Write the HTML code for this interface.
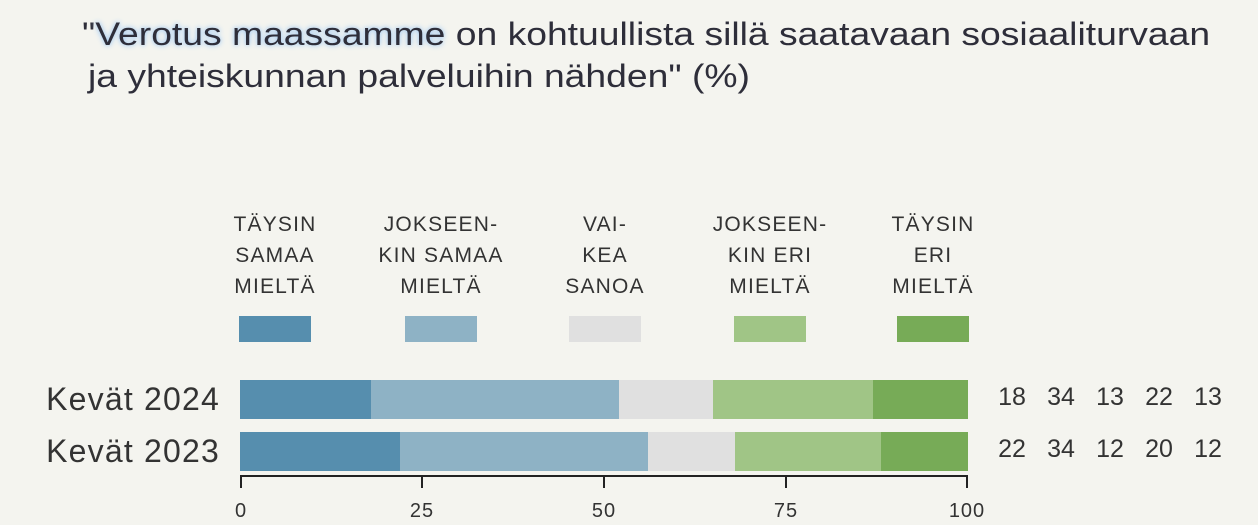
<!DOCTYPE html>
<html><head><meta charset="utf-8"><style>
body{margin:0;width:1258px;height:525px;background:#f4f4ef;font-family:"Liberation Sans",sans-serif;color:#333;position:relative;overflow:hidden}
.t{position:absolute;font-size:32px;white-space:nowrap;color:#2e2e3a;transform-origin:0 0;transform:scaleX(1.165)}
.hl{text-shadow:0 0 4px #a8ccf0,0 0 6px #bcd8f4}
.lg{position:absolute;width:200px;text-align:center;font-size:21px;letter-spacing:1.2px;line-height:31px;color:#333;top:209px}
.sw{position:absolute;top:316px;width:72px;height:26px}
.bar{position:absolute;height:39px;left:240px}
.bar div{position:absolute;top:0;height:100%}
.yl{position:absolute;font-size:32px;letter-spacing:1.2px;color:#333;right:1038px}
.num{position:absolute;font-size:25px;color:#333;width:40px;text-align:center}
.tick{position:absolute;top:476px;width:2px;height:12px;background:#222}
.tl{position:absolute;top:500px;font-size:20px;letter-spacing:1px;width:60px;text-align:center}
</style></head><body>
<div class="t" style="left:82px;top:16px">"<span class="hl">Verotus maassamme</span> on kohtuullista sillä saatavaan sosiaaliturvaan</div>
<div class="t" style="left:88px;top:58px">ja yhteiskunnan palveluihin nähden" (%)</div>

<div class="lg" style="left:175px">TÄYSIN<br>SAMAA<br>MIELTÄ</div>
<div class="lg" style="left:341px">JOKSEEN-<br>KIN SAMAA<br>MIELTÄ</div>
<div class="lg" style="left:505px">VAI-<br>KEA<br>SANOA</div>
<div class="lg" style="left:670px">JOKSEEN-<br>KIN ERI<br>MIELTÄ</div>
<div class="lg" style="left:833px">TÄYSIN<br>ERI<br>MIELTÄ</div>
<div class="sw" style="left:239px;background:#568eae"></div>
<div class="sw" style="left:405px;background:#8eb2c5"></div>
<div class="sw" style="left:569px;background:#e0e0e0"></div>
<div class="sw" style="left:734px;background:#a0c586"></div>
<div class="sw" style="left:897px;background:#77ab57"></div>

<div class="yl" style="top:381px">Kevät 2024</div>
<div class="yl" style="top:433px">Kevät 2023</div>

<div class="bar" style="top:380px;width:728px">
<div style="left:0;width:131px;background:#568eae"></div>
<div style="left:131px;width:248px;background:#8eb2c5"></div>
<div style="left:379px;width:94px;background:#e0e0e0"></div>
<div style="left:473px;width:160px;background:#a0c586"></div>
<div style="left:633px;width:95px;background:#77ab57"></div>
</div>
<div class="bar" style="top:432px;width:728px">
<div style="left:0;width:160px;background:#568eae"></div>
<div style="left:160px;width:248px;background:#8eb2c5"></div>
<div style="left:408px;width:87px;background:#e0e0e0"></div>
<div style="left:495px;width:146px;background:#a0c586"></div>
<div style="left:641px;width:87px;background:#77ab57"></div>
</div>

<div class="num" style="left:992px;top:383px">18</div><div class="num" style="left:1041px;top:383px">34</div><div class="num" style="left:1090px;top:383px">13</div><div class="num" style="left:1139px;top:383px">22</div><div class="num" style="left:1188px;top:383px">13</div>
<div class="num" style="left:992px;top:435px">22</div><div class="num" style="left:1041px;top:435px">34</div><div class="num" style="left:1090px;top:435px">12</div><div class="num" style="left:1139px;top:435px">20</div><div class="num" style="left:1188px;top:435px">12</div>

<div style="position:absolute;left:240px;top:475px;width:728px;height:2px;background:#222"></div>
<div class="tick" style="left:240px"></div><div class="tick" style="left:421px"></div><div class="tick" style="left:603px"></div><div class="tick" style="left:785px"></div><div class="tick" style="left:966px"></div>
<div class="tl" style="left:211px">0</div><div class="tl" style="left:392px">25</div><div class="tl" style="left:574px">50</div><div class="tl" style="left:756px">75</div><div class="tl" style="left:937px">100</div>
</body></html>
